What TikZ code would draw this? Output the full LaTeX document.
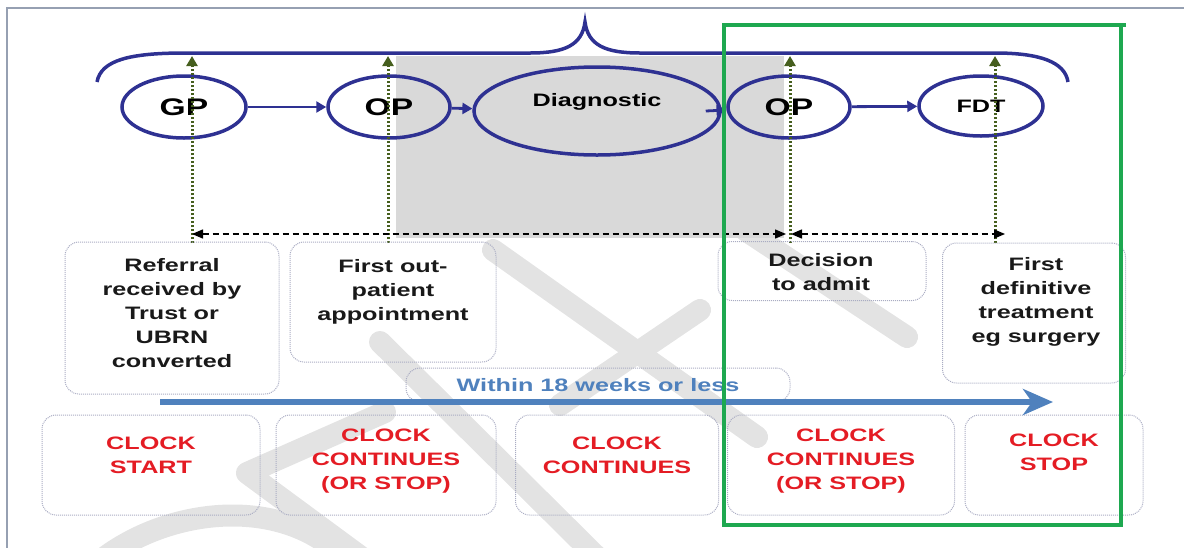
\documentclass[tikz,border=0pt]{standalone}
\usepackage{fontspec}
\setmainfont{Liberation Sans}[FakeStretch=1.4]
\usetikzlibrary{shapes.geometric,arrows.meta,positioning}

\definecolor{navy}{RGB}{46,49,146}
\definecolor{clockred}{RGB}{228,28,36}
\definecolor{steelblue}{RGB}{79,129,189}
\definecolor{olive}{RGB}{70,95,30}
\definecolor{boxgreen}{RGB}{30,168,80}
\definecolor{framegray}{RGB}{150,160,178}
\definecolor{diaggray}{RGB}{217,217,217}
\definecolor{boxline}{RGB}{170,172,195}

\tikzset{
  stage/.style={ellipse, draw=navy, line width=3.5pt, inner sep=0pt,
    font=\bfseries\fontsize{24}{24}\selectfont},
  flow/.style={navy, line width=2.8pt, -{Triangle[length=10pt,width=11pt]}},
  vline/.style={olive, line width=3pt, dash pattern=on 2.5pt off 1.5pt,
    -{Triangle[length=10pt,width=11pt]}},
  span/.style={black, line width=1.4pt, dash pattern=on 6pt off 4pt,
    {Triangle[length=11pt,width=9pt]}-{Triangle[length=11pt,width=9pt]}},
  txtbox/.style={draw=boxline, densely dotted, line width=1pt, rounded corners=14pt},
  bodytxt/.style={align=center, font=\bfseries\fontsize{18}{24}\selectfont, text=black!90},
  clocktxt/.style={bodytxt, text=clockred},
  wmark/.style={gray!22, line width=22pt, line cap=round, line join=round}
}

\begin{document}
\begin{tikzpicture}[x=1pt,y=-1pt]
  \useasboundingbox (0,0) rectangle (1184,547);

  % outer frame
  \draw[framegray, line width=2pt] (7,560) -- (7,8) -- (1190,8);

  % watermark
  \draw[wmark] (385,412) -- (247,473) -- (365,560);
  \draw[wmark] (95,565) .. controls (160,510) and (270,495) .. (335,550);
  \draw[wmark] (380,342) -- (600,560);
  \draw[wmark] (493,250) -- (757,437);
  \draw[wmark] (700,310) -- (560,405);
  \draw[wmark] (745,230) -- (907,337);

  % diagnostic phase
  \fill[diaggray] (396,56) rectangle (784,238);

  % brace over the pathway
  \draw[navy, line width=3.5pt] (97,82) .. controls (101,60) and (130,53) .. (185,53)
    -- (530,53) .. controls (565,53) and (582,45) .. (585,22)
    .. controls (588,45) and (605,53) .. (640,53)
    -- (995,53) .. controls (1040,53) and (1065,62) .. (1068,82);

  % stages
  \node[stage, minimum width=124, minimum height=62] (gp) at (184,107) {GP};
  \node[stage, minimum width=122, minimum height=62] (op1) at (389,107) {OP};
  \node[stage, minimum width=246, minimum height=88] (diag) at (597,111)
    {\fontsize{18}{18}\selectfont\raisebox{4.5pt}[0pt][0pt]{Diagnostic}};
  \node[stage, minimum width=122, minimum height=62] (op2) at (789,107) {OP};
  \node[stage, minimum width=124, minimum height=60, font=\bfseries\fontsize{18}{18}\selectfont]
    (fdt) at (981,106) {FDT};

  \draw[flow] (gp) -- (op1);
  \draw[flow] (op1) -- (diag);
  \draw[flow] ([xshift=-16pt]diag.east) -- (op2);
  \draw[flow] (op2) -- (fdt);

  % event markers
  \foreach \x [count=\i] in {192,388,790,995} {
    \coordinate (lo\i) at (\x,243);
    \coordinate (hi\i) at (\x,56);
    \draw[vline] (lo\i) -- (hi\i);
  }
  \coordinate (da) at (192,234);
  \coordinate (db) at (786,234);
  \coordinate (dc) at (791,234);
  \coordinate (dd) at (1005,234);
  \draw[span] (da) -- (db);
  \draw[span] (dc) -- (dd);

  % event boxes
  \node[txtbox, minimum width=214, minimum height=152] (refbox) at (172,318) {};
  \node[bodytxt] (reftxt) at (172,313) {Referral\\received by\\Trust or\\UBRN\\converted};
  \node[txtbox, minimum width=206, minimum height=120] (fopbox) at (393,302) {};
  \node[bodytxt] (foptxt) at (393,292) {First out-\\patient\\appointment};
  \node[txtbox, minimum width=208, minimum height=59] (dtabox) at (822,271) {};
  \node[bodytxt] (dtatxt) at (821,272) {Decision\\to admit};
  \node[txtbox, minimum width=183, minimum height=140] (fdtbox) at (1034,313) {};
  \node[bodytxt] (fdttxt) at (1036,302) {First\\definitive\\treatment\\eg surgery};

  % clock boxes
  \foreach \cx/\cw/\ty/\nm/\txt in {151/218/455/start/{CLOCK\\START},
      386/220/461/contA/{CLOCK\\CONTINUES\\(OR STOP)},
      617/203/455/contB/{CLOCK\\CONTINUES},
      841/227/461/contC/{CLOCK\\CONTINUES\\(OR STOP)},
      1054/178/452/stop/{CLOCK\\STOP}} {
    \node[txtbox, minimum width=\cw, minimum height=100] (\nm box) at (\cx,465) {};
    \node[clocktxt] (\nm txt) at (\cx,\ty) {\txt};
  }

  % 18 weeks
  \node[txtbox, minimum width=384, minimum height=34, bodytxt, text=steelblue]
    (within) at (598,385) {Within 18 weeks or less};
  \coordinate (clockon) at (160,402);
  \coordinate (clockoff) at (1053,402);
  \draw[steelblue, line width=6pt, -{Stealth[length=30pt,width=26pt,inset=9pt]}]
    (clockon) -- (clockoff);

  % admitted part
  \draw[boxgreen, line width=4pt] (1126,25) -- (724,25) -- (724,525) -- (1121,525) -- (1121,25);
\end{tikzpicture}
\end{document}
